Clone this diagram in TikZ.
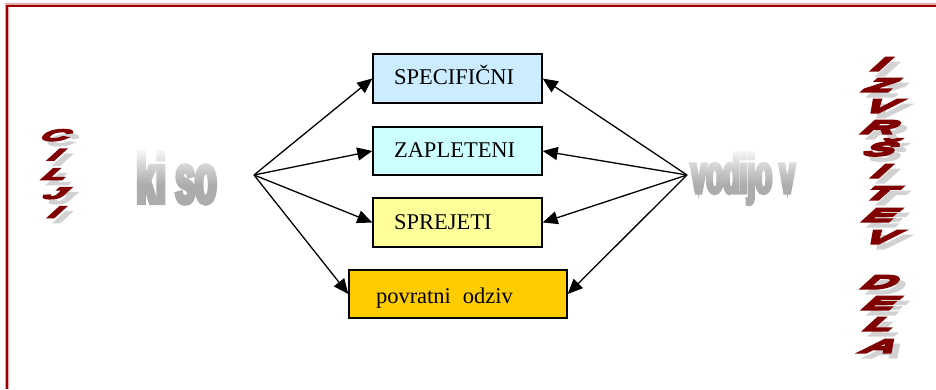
\documentclass[tikz,border=0pt]{standalone}
\usepackage{fontspec}
\setmainfont{Liberation Serif}
% condensed heavy sans for the grey captions
\newfontfamily\artfont{Liberation Sans}[FakeStretch=0.5, FakeBold=6, BoldFeatures={FakeBold=6}]
% wide, strongly slanted heavy sans for the vertical red words
\newfontfamily\letterfont{Liberation Sans}[FakeStretch=2.5, FakeSlant=1.1, FakeBold=12, BoldFeatures={FakeBold=12}]
\usetikzlibrary{arrows.meta}

\definecolor{frameRed}{HTML}{990000}
\definecolor{framePink}{HTML}{E8A8A8}
\definecolor{artRed}{HTML}{800000}
\definecolor{specBlue}{HTML}{CCECFF}
\definecolor{zapCyan}{HTML}{CCFFFF}
\definecolor{sprYellow}{HTML}{FFFF99}
\definecolor{odzivGold}{HTML}{FFCC00}

\tikzset{
  frameglow/.style={line width=3.2pt, draw=framePink},
  frameline/.style={line width=2pt, draw=frameRed},
  goalbox/.style={draw=black, line width=1.4pt, inner ysep=0pt, minimum height=49pt,
    text height=16pt, text depth=3pt, align=left, font=\fontsize{22.5}{24}\selectfont},
  flow/.style={line width=1.3pt, -{Triangle[length=15pt,width=13pt]}},
  greyart/.style={inner sep=0pt, anchor=base, text=gray!65,
    font=\artfont\bfseries\fontsize{#1}{#1}\selectfont},
  redletter/.style={inner sep=0pt, anchor=base, text=artRed,
    font=\letterfont\bfseries\fontsize{#1}{#1}\selectfont},
  greyletter/.style={redletter=#1, text=gray!35},
}

\begin{document}
\begin{tikzpicture}[x=1pt, y=1pt]
  \useasboundingbox (0,0) rectangle (936,389);

  % page frame (top and left edges)
  \draw[frameglow] (7,0) -- (7,384) -- (936,384);
  \draw[frameline] (7,0) -- (7,383) -- (936,383);

  % the four goal properties
  \node (s1) [goalbox, fill=specBlue, text width=127pt, inner xsep=21pt] at (457.5,310.5) {SPECIFIČNI};
  \node (s2) [goalbox, fill=zapCyan, text width=127pt, inner xsep=21pt, minimum height=48pt] at (457.5,238) {ZAPLETENI};
  \node (s3) [goalbox, fill=sprYellow, text width=127pt, inner xsep=21pt] at (457.5,166.5) {SPREJETI};
  \node (s4) [goalbox, fill=odzivGold, text width=164pt, inner xsep=27pt, minimum height=48pt,
    text height=19pt, text depth=1pt] at (458,95) {povratni\hspace{12pt}odziv};

  % fan-out and fan-in points
  \coordinate (fanL) at (254,214);
  \coordinate (fanR) at (687,214);

  \foreach \b in {s1,s2,s3,s4} {
    \draw[flow] (fanL) -- (\b.west);
    \draw[flow] (fanR) -- (\b.east);
  }

  % grey captions
  \node (kiso) [greyart=70] at (176.5,186) {ki so};
  \node (vodijo) [greyart=55] at (743,196) {vodijo v};

  % white veil fading towards the baseline gives the captions a vertical gradient
  \foreach \i in {0,...,26} {
    \pgfmathsetmacro\op{0.93*max(0,(\i/26-0.3)/0.7)^1.1}
    \fill[white, opacity=\op] (126,186+2*\i) rectangle (230,188.05+2*\i);
    \fill[white, opacity=\op] (689.5,186+2*\i) rectangle (806,188.05+2*\i);
  }

  % vertical slanted lettering with a grey drop shadow: CILJI
  \foreach \ch/\yy [count=\k] in {C/248.5, I/229, L/209.5, J/190.5, I/171.5} {
    \node (ciljsh\k) [greyletter=15.5] at (57,\yy-5) {\ch};
    \node (cilj\k) [redletter=15.5] at (51,\yy) {\ch};
  }

  % IZVRŠITEV DELA
  \foreach \ch/\yy [count=\k] in {I/318.5, Z/297.5, V/276.5, R/255.5, Š/233.5, I/211.5,
      T/189.5, E/167.5, V/145.5, D/100.5, E/79.5, L/58.5, A/36.5} {
    \node (izsh\k) [greyletter=18.5] at (881,\yy-5) {\ch};
    \node (iz\k) [redletter=18.5] at (875,\yy) {\ch};
  }
\end{tikzpicture}
\end{document}
